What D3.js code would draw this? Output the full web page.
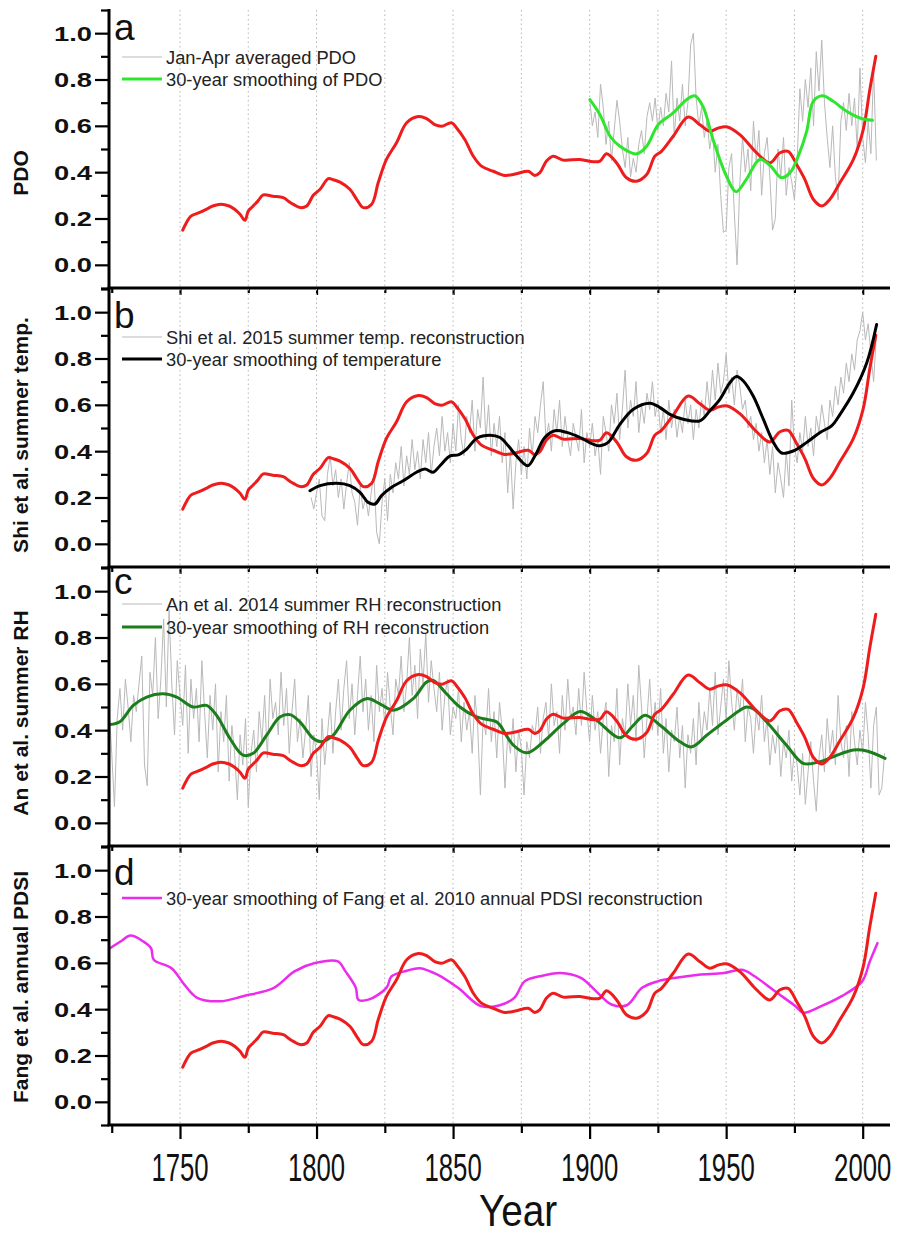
<!DOCTYPE html>
<html>
<head>
<meta charset="utf-8">
<script src="https://cdn.jsdelivr.net/npm/d3@7"></script>
<style>
  body { margin: 0; background: #fff; }
  svg { display: block; }
</style>
</head>
<body>
<svg id="chart" width="902" height="1236"></svg>
<script>
// ---------------- data ----------------
// Reconstructed PDO index (red curve, repeated in every panel): [year, value]
const pdoReconstruction = [
  [1751,0.150],[1752.5,0.185],[1754,0.210],[1757,0.225],[1760,0.242],[1762,0.254],[1765,0.262],
  [1768,0.254],[1770,0.240],[1772,0.218],[1773.8,0.192],[1775,0.232],[1776.8,0.254],[1778.5,0.275],
  [1780.5,0.302],[1784,0.296],[1787.8,0.290],[1790,0.272],[1791.5,0.261],[1794,0.247],[1796.4,0.254],
  [1798.8,0.300],[1801.3,0.326],[1804.3,0.372],[1806,0.368],[1808.6,0.357],[1812.2,0.326],[1814.7,0.283],
  [1817.1,0.247],[1820.2,0.262],[1822.6,0.355],[1825.6,0.455],[1829.3,0.527],[1833,0.613],[1837.3,0.640],
  [1840.3,0.631],[1843.3,0.605],[1845.8,0.598],[1849.4,0.613],[1851.3,0.591],[1854.3,0.541],[1857.4,0.469],
  [1860.4,0.426],[1864.7,0.404],[1869,0.386],[1873.2,0.393],[1877.5,0.404],[1879.9,0.386],[1881.8,0.398],
  [1884.2,0.448],[1886.7,0.469],[1890.3,0.452],[1896.5,0.455],[1901.3,0.445],[1903.8,0.448],[1906.2,0.479],
  [1909.9,0.440],[1913.5,0.376],[1917.2,0.361],[1920.9,0.390],[1923.9,0.469],[1926.3,0.490],[1930.6,0.555],
  [1936.1,0.638],[1940.4,0.605],[1944,0.577],[1947,0.590],[1950.1,0.596],[1955,0.562],[1961.1,0.484],
  [1966,0.440],[1969.7,0.484],[1972.7,0.490],[1975.8,0.433],[1978.8,0.369],[1981.9,0.283],[1985,0.254],
  [1988,0.283],[1991.7,0.355],[1996.6,0.455],[2000.2,0.584],[2002.6,0.756],[2004.8,0.900]
];

// (a) Jan-Apr averaged PDO, annual values from 1900
const pdoAnnualStart = 1900;
const pdoAnnual = [
  0.72,0.60,0.66,0.55,0.78,0.68,0.52,0.62,0.45,0.58,
  0.71,0.62,0.50,0.42,0.55,0.38,0.46,0.40,0.52,0.58,
  0.48,0.64,0.70,0.62,0.72,0.58,0.68,0.60,0.74,0.66,
  0.88,0.55,0.72,0.62,0.78,0.60,0.70,0.95,1.00,0.72,
  0.60,0.68,0.55,0.62,0.50,0.58,0.40,0.52,0.30,0.14,
  0.15,0.42,0.48,0.22,0.00,0.35,0.55,0.40,0.50,0.32,
  0.62,0.45,0.58,0.30,0.48,0.55,0.38,0.15,0.20,0.50,
  0.38,0.55,0.30,0.42,0.36,0.28,0.45,0.76,0.62,0.80,
  0.68,0.85,0.60,0.92,0.75,0.97,0.70,0.55,0.42,0.60,
  0.38,0.28,0.62,0.70,0.58,0.74,0.60,0.72,0.50,0.85,
  0.55,0.44,0.62,0.48,0.85,0.45
];
// (a) 30-year smoothing of PDO: [year, value]
const pdoSmooth = [
  [1900.1,0.713],[1903.8,0.648],[1907.5,0.555],[1911.1,0.512],[1917.2,0.479],[1920.9,0.512],
  [1925.1,0.605],[1930.6,0.656],[1935.5,0.713],[1938.5,0.730],[1941.5,0.684],[1945.2,0.541],
  [1950.1,0.383],[1953.7,0.316],[1957.4,0.369],[1962.3,0.455],[1966,0.430],[1970.3,0.376],
  [1973.4,0.398],[1976.4,0.469],[1979.5,0.577],[1981.9,0.706],[1985.3,0.730],[1989.2,0.706],
  [1994.1,0.663],[1999,0.634],[2003.6,0.624]
];

// (b) Shi et al. 2015 summer temperature reconstruction, annual values from 1798
const tempAnnualStart = 1798;
const tempAnnual = [
  0.20,0.15,0.22,
  0.28,0.12,0.10,0.30,0.38,0.25,0.32,0.20,0.28,
  0.15,0.26,0.35,0.22,0.18,0.08,0.25,0.15,0.20,0.12,
  0.22,0.30,0.05,0.00,0.18,0.28,0.10,0.30,0.22,0.35,
  0.28,0.42,0.25,0.38,0.30,0.45,0.32,0.40,0.28,0.45,
  0.35,0.48,0.30,0.42,0.50,0.38,0.55,0.40,0.48,0.35,
  0.52,0.40,0.60,0.45,0.38,0.55,0.48,0.62,0.40,0.58,
  0.50,0.72,0.45,0.60,0.38,0.52,0.42,0.55,0.35,0.48,
  0.22,0.40,0.15,0.35,0.45,0.30,0.42,0.28,0.50,0.38,
  0.55,0.48,0.60,0.70,0.45,0.52,0.40,0.58,0.48,0.62,
  0.42,0.55,0.45,0.38,0.52,0.46,0.40,0.58,0.35,0.48,
  0.42,0.52,0.38,0.45,0.30,0.55,0.48,0.40,0.60,0.52,
  0.65,0.45,0.58,0.75,0.50,0.62,0.55,0.70,0.48,0.60,
  0.52,0.65,0.58,0.70,0.55,0.62,0.48,0.58,0.45,0.62,
  0.50,0.58,0.46,0.55,0.48,0.62,0.52,0.60,0.45,0.58,
  0.50,0.62,0.55,0.70,0.58,0.75,0.62,0.78,0.65,0.70,
  0.82,0.65,0.72,0.60,0.75,0.68,0.58,0.62,0.50,0.55,
  0.45,0.52,0.40,0.48,0.35,0.45,0.30,0.42,0.22,0.35,
  0.28,0.20,0.40,0.25,0.62,0.42,0.35,0.48,0.40,0.55,
  0.42,0.50,0.38,0.55,0.48,0.60,0.52,0.45,0.62,0.55,
  0.68,0.60,0.72,0.65,0.78,0.70,0.82,0.75,0.88,0.92,
  1.00,0.88,0.95,0.82,0.70,0.90
];
// (b) 30-year smoothing of temperature: [year, value]
const tempSmooth = [
  [1797.6,0.229],[1801.3,0.251],[1807.4,0.261],[1812.2,0.251],[1815.9,0.222],[1818.9,0.179],
  [1821.4,0.172],[1823.8,0.208],[1827.5,0.244],[1831.7,0.272],[1836.6,0.309],[1839.7,0.323],
  [1842.7,0.309],[1845.2,0.337],[1848.9,0.380],[1851.9,0.384],[1855,0.409],[1858.7,0.456],
  [1863.5,0.469],[1867.2,0.459],[1870.2,0.423],[1873.2,0.380],[1877.3,0.337],[1880,0.380],
  [1883.6,0.459],[1887.3,0.488],[1891.6,0.481],[1896.5,0.459],[1901.3,0.430],[1903.8,0.423],
  [1906.8,0.438],[1911.1,0.516],[1916,0.581],[1922.1,0.607],[1925.8,0.588],[1929.4,0.559],
  [1934.3,0.538],[1940.4,0.531],[1944,0.574],[1947.7,0.624],[1951.4,0.696],[1953.8,0.722],
  [1956.3,0.703],[1959.9,0.638],[1963.6,0.538],[1967.3,0.438],[1970.3,0.392],[1974.6,0.401],
  [1979.5,0.438],[1984.4,0.481],[1988.6,0.509],[1991.7,0.559],[1996.6,0.653],[2001.5,0.782],
  [2005.1,0.947]
];

// (c) An et al. 2014 summer RH reconstruction, annual values from 1724
const rhAnnualStart = 1724;
const rhAnnual = [
  0.50,0.30,0.07,0.45,0.58,0.40,0.62,0.50,0.35,0.55,
  0.48,0.60,0.72,0.25,0.16,0.65,0.55,0.80,0.45,0.62,
  0.88,0.50,0.92,0.60,0.38,0.70,0.55,0.42,0.68,0.30,
  0.62,0.45,0.58,0.35,0.70,0.48,0.28,0.55,0.40,0.60,
  0.22,0.48,0.35,0.55,0.18,0.42,0.30,0.10,0.38,0.25,
  0.45,0.07,0.30,0.40,0.22,0.48,0.35,0.55,0.28,0.62,
  0.45,0.52,0.38,0.65,0.42,0.58,0.30,0.48,0.62,0.35,
  0.45,0.28,0.40,0.55,0.20,0.38,0.30,0.10,0.45,0.25,
  0.38,0.52,0.30,0.48,0.62,0.40,0.58,0.70,0.45,0.60,
  0.38,0.55,0.72,0.48,0.62,0.40,0.55,0.35,0.68,0.48,
  0.58,0.42,0.65,0.50,0.38,0.62,0.55,0.72,0.48,0.60,
  0.80,0.55,0.68,0.45,0.75,0.60,0.82,0.52,0.70,0.58,
  0.48,0.65,0.40,0.55,0.62,0.38,0.50,0.45,0.58,0.35,
  0.52,0.40,0.48,0.30,0.55,0.42,0.12,0.45,0.38,0.58,
  0.35,0.48,0.28,0.52,0.40,0.15,0.38,0.30,0.45,0.22,
  0.40,0.32,0.12,0.35,0.28,0.42,0.38,0.50,0.30,0.45,
  0.52,0.36,0.60,0.42,0.48,0.30,0.55,0.40,0.62,0.45,
  0.50,0.38,0.58,0.42,0.65,0.48,0.35,0.55,0.40,0.48,
  0.30,0.45,0.52,0.20,0.42,0.35,0.58,0.25,0.45,0.38,
  0.60,0.42,0.55,0.35,0.68,0.50,0.28,0.45,0.62,0.40,
  0.52,0.38,0.58,0.30,0.45,0.22,0.40,0.35,0.50,0.28,
  0.42,0.15,0.38,0.30,0.45,0.25,0.52,0.35,0.48,0.40,
  0.58,0.42,0.65,0.38,0.50,0.62,0.45,0.70,0.52,0.40,
  0.58,0.48,0.62,0.35,0.50,0.45,0.30,0.48,0.40,0.55,
  0.35,0.45,0.25,0.38,0.30,0.42,0.20,0.35,0.28,0.40,
  0.18,0.32,0.25,0.12,0.30,0.08,0.22,0.35,0.18,0.05,
  0.28,0.38,0.22,0.45,0.30,0.40,0.25,0.55,0.35,0.28,
  0.42,0.20,0.48,0.35,0.25,0.40,0.30,0.52,0.38,0.15,
  0.42,0.50,0.12,0.15,0.30
];
// (c) 30-year smoothing of RH reconstruction: [year, value]
const rhSmooth = [
  [1724.4,0.424],[1728,0.436],[1732.9,0.507],[1737.8,0.543],[1743.8,0.557],[1748.8,0.543],
  [1754.8,0.500],[1759.7,0.507],[1763.4,0.464],[1768.3,0.364],[1773.1,0.292],[1776.8,0.300],
  [1781.7,0.378],[1786.6,0.457],[1790.3,0.467],[1793.9,0.436],[1798.8,0.364],[1801.8,0.350],
  [1806.1,0.378],[1812.2,0.486],[1818.3,0.536],[1823.2,0.514],[1828.1,0.486],[1835.4,0.536],
  [1840.3,0.608],[1842.7,0.615],[1847.6,0.557],[1852.5,0.500],[1858.6,0.457],[1865.9,0.436],
  [1867.2,0.421],[1872.1,0.335],[1877,0.302],[1883,0.349],[1890.3,0.428],[1896.5,0.481],
  [1902.5,0.443],[1911.1,0.367],[1916,0.421],[1920.3,0.464],[1925.8,0.421],[1933.1,0.350],
  [1937.4,0.328],[1942.9,0.378],[1950.1,0.443],[1957.4,0.500],[1959.9,0.493],[1964.8,0.436],
  [1972.1,0.335],[1978.2,0.257],[1984.4,0.264],[1989.2,0.285],[1996.6,0.314],[2001.5,0.310],
  [2008.2,0.278]
];

// (d) 30-year smoothing of Fang et al. 2010 annual PDSI reconstruction: [year, value]
const pdsiSmooth = [
  [1724.4,0.663],[1728.2,0.692],[1731.9,0.718],[1736.6,0.692],[1739.4,0.663],[1740.4,0.613],
  [1746.9,0.577],[1751.6,0.506],[1756.3,0.449],[1764.7,0.434],[1773.1,0.456],[1784.4,0.492],
  [1791.9,0.563],[1799.4,0.599],[1807.8,0.606],[1810.6,0.563],[1814.4,0.492],[1815.3,0.441],
  [1819,0.441],[1825.6,0.492],[1827.5,0.542],[1833.1,0.566],[1837.8,0.577],[1844.3,0.549],
  [1851.8,0.492],[1860.2,0.413],[1866.8,0.416],[1872.4,0.449],[1876.2,0.520],[1881.8,0.542],
  [1889.3,0.556],[1896.8,0.535],[1902.4,0.477],[1908,0.420],[1913.6,0.417],[1919.2,0.492],
  [1924.8,0.520],[1932.3,0.537],[1939.9,0.549],[1949.2,0.556],[1955.8,0.570],[1960.4,0.542],
  [1967.9,0.477],[1975.4,0.413],[1978.2,0.385],[1984.8,0.413],[1992.3,0.456],[1999.8,0.520],
  [2002.6,0.606],[2005.4,0.685]
];

// axis ticks and labels
const yearTicks = [1725, 1750, 1775, 1800, 1825, 1850, 1875, 1900, 1925, 1950, 1975, 2000];
const yearTickLabels = ["1750", "1800", "1850", "1900", "1950", "2000"];
const valueTicksMajor = [0.0, 0.2, 0.4, 0.6, 0.8, 1.0];
const valueTicksMinor = [-0.1, 0.1, 0.3, 0.5, 0.7, 0.9, 1.1];
const valueTickLabels = ["0.0", "0.2", "0.4", "0.6", "0.8", "1.0"];
const gridYears = [1750, 1775, 1800, 1825, 1850, 1875, 1900, 1925, 1950, 1975, 2000];

// ---------------- layout ----------------
const svg = d3.select("#chart");
const plotLeft = 109, plotRight = 890;
const panelHeight = 278;
const panelTops = [10, 289, 568, 847];
const FONT = "Arial, 'Liberation Sans', sans-serif";

const x = d3.scaleLinear().domain([1724, 2010]).range([plotLeft, plotRight]);

const colors = {
  recon: "#ee1c1c",
  gray: "#b9b9b9",
  pdo: "#2ee62e",
  temp: "#000000",
  rh: "#1b7d1b",
  pdsi: "#ec2cec"
};

const annual = (start, vals) => vals.map((v, i) => [start + i, v]);

const panels = [
  {
    letter: "a", ylabel: "PDO", ylabelY: 173,
    raw: annual(pdoAnnualStart, pdoAnnual), smooth: pdoSmooth, smoothColor: colors.pdo,
    legend: [["Jan-Apr averaged PDO", colors.gray, 1], ["30-year smoothing of PDO", colors.pdo, 3]],
    reconOnTop: false
  },
  {
    letter: "b", ylabel: "Shi et al. summer temp.", ylabelY: 435,
    raw: annual(tempAnnualStart, tempAnnual), smooth: tempSmooth, smoothColor: colors.temp,
    legend: [["Shi et al. 2015 summer temp. reconstruction", colors.gray, 1], ["30-year  smoothing of temperature", colors.temp, 3]],
    reconOnTop: false
  },
  {
    letter: "c", ylabel: "An et al. summer RH", ylabelY: 713,
    raw: annual(rhAnnualStart, rhAnnual), smooth: rhSmooth, smoothColor: colors.rh,
    legend: [["An et al. 2014 summer RH reconstruction", colors.gray, 1], ["30-year  smoothing of RH reconstruction", colors.rh, 3]],
    reconOnTop: true
  },
  {
    letter: "d", ylabel: "Fang et al. annual PDSI", ylabelY: 987,
    raw: null, smooth: pdsiSmooth, smoothColor: colors.pdsi,
    legend: [["30-year smoothing of Fang et al. 2010 annual PDSI reconstruction", colors.pdsi, 2.5]],
    reconOnTop: true
  }
];

const legendRowY = [[57, 79], [337, 359], [604, 627], [898]];
const letterBaseline = [40, 328, 594, 885];

panels.forEach((p, i) => {
  const top = panelTops[i], bottom = top + panelHeight;
  const y = d3.scaleLinear().domain([-0.1, 1.1]).range([bottom, top]);
  const g = svg.append("g").attr("class", "panel-" + p.letter);

  // dotted vertical grid
  g.append("g").selectAll("line").data(gridYears).join("line")
    .attr("x1", d => x(d)).attr("x2", d => x(d))
    .attr("y1", top).attr("y2", bottom)
    .attr("stroke", "#b5b5b5").attr("stroke-width", 1)
    .attr("stroke-dasharray", "1.5,3");

  const rawLine = d3.line().x(d => x(d[0])).y(d => y(d[1]));
  const smoothLine = d3.line().x(d => x(d[0])).y(d => y(d[1])).curve(d3.curveCatmullRom.alpha(0.5));

  if (p.raw) {
    g.append("path").datum(p.raw).attr("d", rawLine)
      .attr("fill", "none").attr("stroke", colors.gray).attr("stroke-width", 1)
      .attr("stroke-linejoin", "round");
  }
  const drawRecon = () => g.append("path").datum(pdoReconstruction).attr("d", smoothLine)
    .attr("fill", "none").attr("stroke", colors.recon).attr("stroke-width", 3)
    .attr("stroke-linejoin", "round").attr("stroke-linecap", "round");
  const drawSmooth = () => g.append("path").datum(p.smooth).attr("d", smoothLine)
    .attr("fill", "none").attr("stroke", p.smoothColor).attr("stroke-width", i === 3 ? 2.5 : 3)
    .attr("stroke-linejoin", "round").attr("stroke-linecap", "round");
  if (p.reconOnTop) { drawSmooth(); drawRecon(); } else { drawRecon(); drawSmooth(); }

  // left axis: major and minor ticks
  const axisG = g.append("g").attr("transform", `translate(${plotLeft},0)`);
  axisG.call(d3.axisLeft(y).tickValues(valueTicksMajor).tickSize(14).tickFormat(""));
  axisG.append("g").call(d3.axisLeft(y).tickValues(valueTicksMinor).tickSize(8).tickFormat(""));
  axisG.selectAll(".domain").remove();
  axisG.selectAll("text").remove();
  axisG.selectAll("line").attr("stroke", "#000").attr("stroke-width", 2.2);
  axisG.append("line").attr("x1", 0).attr("x2", 0).attr("y1", top - 1).attr("y2", bottom + 1)
    .attr("stroke", "#000").attr("stroke-width", 3);

  // value labels (bold, wide)
  g.append("g").selectAll("text").data(valueTicksMajor).join("text")
    .attr("transform", d => `translate(92,${y(d)}) scale(1.3,1)`)
    .attr("text-anchor", "end").attr("dy", "0.36em")
    .attr("font-family", FONT).attr("font-weight", "bold")
    .attr("font-size", 21).attr("fill", "#111")
    .text((d, k) => valueTickLabels[k]);

  // bottom axis of the panel
  const xAxisG = g.append("g").attr("transform", `translate(0,${bottom})`);
  const isLast = i === panels.length - 1;
  xAxisG.call(d3.axisBottom(x).tickValues(yearTicks).tickSize(0).tickFormat(""));
  xAxisG.selectAll(".domain").remove();
  xAxisG.selectAll("text").remove();
  xAxisG.selectAll(".tick").append("line")
    .attr("y1", 0)
    .attr("y2", d => (d % 50 === 0) ? (isLast ? 14 : 7) : (isLast ? 8 : 5))
    .attr("stroke", "#000").attr("stroke-width", 2.2);
  xAxisG.append("line").attr("x1", plotLeft - 1.5).attr("x2", plotRight).attr("y1", 0).attr("y2", 0)
    .attr("stroke", "#000").attr("stroke-width", 3);

  if (isLast) {
    const labelYears = yearTicks.filter(d => d % 50 === 0);
    xAxisG.selectAll(".year-label").data(labelYears).join("text")
      .attr("class", "year-label")
      .attr("transform", d => `translate(${x(d)},56) scale(0.66,1)`)
      .attr("text-anchor", "middle")
      .attr("font-family", FONT)
      .attr("font-size", 39).attr("fill", "#111")
      .text((d, k) => yearTickLabels[k]);
  }

  // panel letter
  g.append("text").attr("x", 114).attr("y", letterBaseline[i])
    .attr("font-family", FONT)
    .attr("font-size", 37).attr("fill", "#111").text(p.letter);

  // legend
  p.legend.forEach((entry, k) => {
    const ly = legendRowY[i][k];
    g.append("line").attr("x1", 122).attr("x2", 162).attr("y1", ly).attr("y2", ly)
      .attr("stroke", entry[1]).attr("stroke-width", entry[2]);
    g.append("text").attr("x", 166).attr("y", ly + 6.5)
      .attr("font-family", FONT)
      .attr("font-size", 18.3).attr("fill", "#222").text(entry[0]);
  });

  // y axis title
  g.append("text")
    .attr("transform", `translate(28,${p.ylabelY}) rotate(-90)`)
    .attr("text-anchor", "middle")
    .attr("font-family", FONT)
    .attr("font-weight", "bold").attr("font-size", 21).attr("fill", "#111")
    .text(p.ylabel);
});

// x axis title
svg.append("text")
  .attr("transform", `translate(518,1226) scale(0.88,1)`)
  .attr("text-anchor", "middle")
  .attr("font-family", FONT)
  .attr("font-size", 44).attr("fill", "#111")
  .text("Year");
</script>
</body>
</html>
